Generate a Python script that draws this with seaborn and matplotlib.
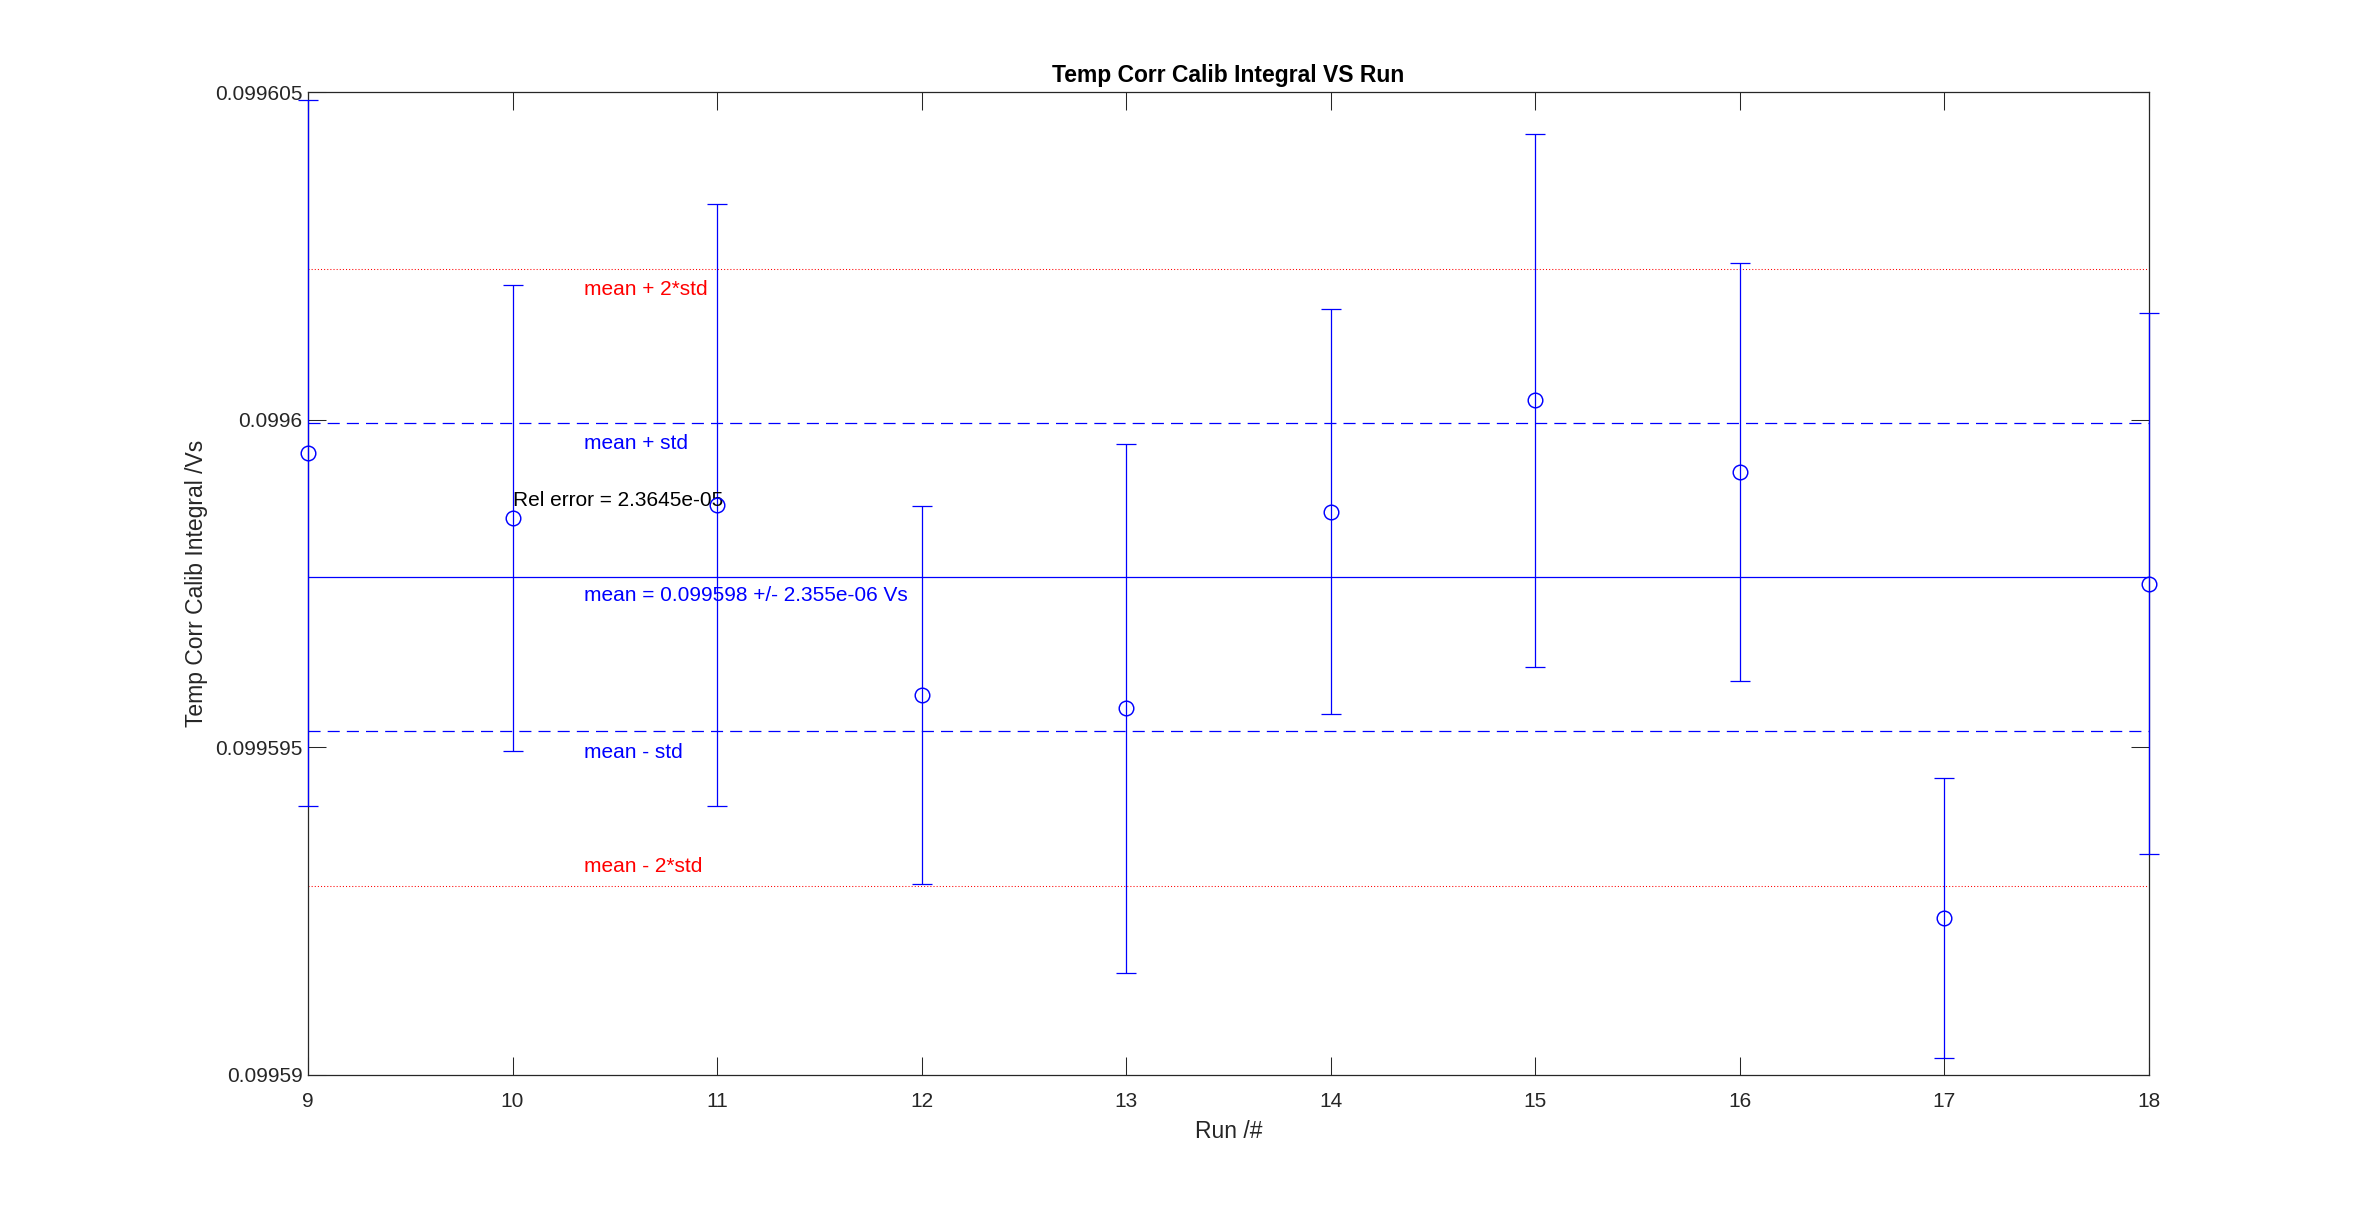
import numpy as np
import seaborn as sns
import matplotlib
matplotlib.use('Agg')
import matplotlib.pyplot as plt

# runs and calibration integral (Vs)
runs = [9, 10, 11, 12, 13, 14, 15, 16, 17, 18]
integral = [0.0995995, 0.0995985, 0.0995987, 0.0995958, 0.0995956,
            0.0995986, 0.0996003, 0.0995992, 0.0995924, 0.0995975]
integral_err = [5.39e-6, 3.56e-6, 4.59e-6, 2.88e-6, 4.04e-6,
                3.09e-6, 4.07e-6, 3.19e-6, 2.14e-6, 4.13e-6]

mean_val = 0.0995976
std_val = 2.355e-6
rel_err = 2.3645e-05

ytick_vals = [0.09959, 0.099595, 0.0996, 0.099605]
ytick_labels = ['0.09959', '0.099595', '0.0996', '0.099605']

sns.set_theme(style='white')
plt.rcParams['font.family'] = ['Liberation Sans', 'DejaVu Sans']
plt.rcParams['lines.scale_dashes'] = False
grey = (0.15, 0.15, 0.15)

fig = plt.figure(figsize=(2378 / 150, 1210 / 150), dpi=150)
ax = fig.add_axes([0.1295, 0.1116, 0.7742, 0.812])

# error bars (MATLAB-style, caps spill over the box)
eb = ax.errorbar(runs, integral, yerr=integral_err, fmt='none', ecolor='blue',
                 elinewidth=0.6, capsize=5, capthick=0.6, zorder=3)
for art in eb.lines[1] + eb.lines[2]:
    art.set_clip_on(False)
sns.lineplot(x=runs, y=integral, ax=ax, linestyle='', marker='o', markersize=7,
             markerfacecolor='none', markeredgecolor='blue', markeredgewidth=0.7,
             color='blue', clip_on=False, zorder=4)

xmin, xmax = runs[0], runs[-1]
ax.hlines(mean_val, xmin, xmax, colors='blue', linewidth=0.6)
ax.hlines([mean_val + std_val, mean_val - std_val], xmin, xmax, colors='blue',
          linewidth=0.6, linestyles=(0, (5.8, 3.4)))
ax.hlines([mean_val + 2 * std_val, mean_val - 2 * std_val], xmin, xmax, colors='red',
          linewidth=0.5, linestyles=(0, (0.5, 1.0)))

tx = xmin + 0.15 * (xmax - xmin)
labels = [
    (mean_val + 2 * std_val, 'mean + 2*std', 'red', -10),
    (mean_val + std_val, 'mean + std', 'blue', -10),
    (mean_val, 'mean = 0.099598 +/- 2.355e-06 Vs', 'blue', -9),
    (mean_val - std_val, 'mean - std', 'blue', -10),
    (mean_val - 2 * std_val, 'mean - 2*std', 'red', 9),
]
for yv, txt, col, dy in labels:
    ax.annotate(txt, xy=(tx, yv), xytext=(0, dy), textcoords='offset points',
                ha='left', va='center', color=col, fontsize=10)
ax.text(10, mean_val + std_val / 2, f'Rel error = {rel_err:.4e}',
        ha='left', va='center', color='black', fontsize=10)

ax.set_xlim(xmin, xmax)
ax.set_ylim(ytick_vals[0], ytick_vals[-1])
ax.set_xticks(runs)
ax.set_xticklabels([str(r) for r in runs])
ax.set_yticks(ytick_vals)
ax.set_yticklabels(ytick_labels)
ax.tick_params(direction='in', length=8.8, width=0.5, color=grey, labelcolor=grey,
               labelsize=10, top=True, right=True, bottom=True, left=True)
ax.tick_params(axis='x', pad=8)
ax.tick_params(axis='y', pad=2.5)
for sp in ax.spines.values():
    sp.set_color(grey)
    sp.set_linewidth(0.6)
    sp.set_visible(True)

ax.set_title('Temp Corr Calib Integral VS Run', fontsize=11, fontweight='bold',
             color='black', pad=5)
ax.set_xlabel('Run /#', fontsize=11, color=grey, labelpad=4.5)
ax.set_ylabel('Temp Corr Calib Integral /Vs', fontsize=11, color=grey, labelpad=3.5)

fig.savefig('out.png', dpi=150, facecolor='white')
